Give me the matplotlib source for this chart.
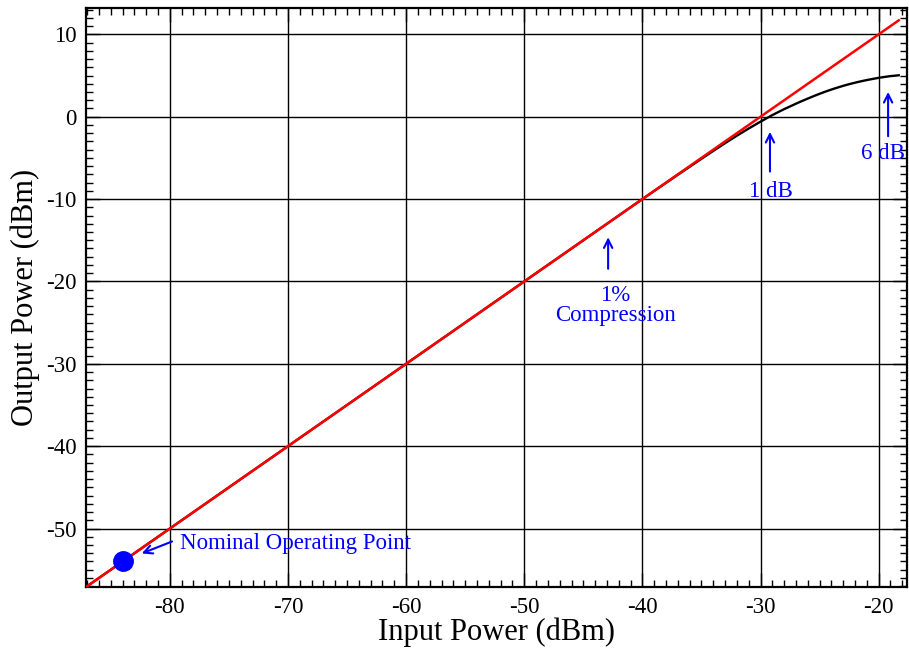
import matplotlib.pyplot as plt
from matplotlib.ticker import MultipleLocator

plt.rcParams['font.family'] = ['Liberation Serif', 'DejaVu Serif']
plt.rcParams['axes.unicode_minus'] = False

# linear (ideal) response
lin_in = [-87.0, -18.3]
lin_out = [-57.0, 11.7]

# compressed amplifier response
amp_in = [-87.0, -40.0, -39.0, -38.0, -37.0, -36.0, -35.0, -34.0, -33.0, -32.0,
          -31.0, -30.0, -29.5, -29.0, -28.5, -28.0, -27.5, -27.0, -26.5, -26.0,
          -25.5, -25.0, -24.5, -24.0, -23.5, -23.0, -22.5, -22.0, -21.5, -21.0,
          -20.5, -20.0, -19.5, -19.0, -18.5, -18.3]
amp_out = [-57.0, -10.0, -9.01, -8.03, -7.05, -6.08, -5.11, -4.15, -3.21, -2.3,
           -1.43, -0.6, -0.2, 0.2, 0.56, 0.92, 1.25, 1.58, 1.9, 2.2,
           2.5, 2.78, 3.05, 3.3, 3.53, 3.75, 3.95, 4.13, 4.3, 4.45,
           4.59, 4.72, 4.83, 4.93, 5.0, 5.03]

op_in, op_out = -84.0, -54.0

fig = plt.figure(figsize=(9.09, 6.5), dpi=100)
ax = fig.add_axes([0.0946, 0.0969, 0.9032, 0.8908])

ax.plot(amp_in, amp_out, color='black', lw=1.7, zorder=3)
ax.plot(lin_in, lin_out, color='red', lw=1.8, zorder=4)
ax.plot([op_in], [op_out], 'o', color='blue', ms=14, zorder=5)

blue = (0, 0, 1)
fs = 16.5
arrow = dict(arrowstyle='->', color=blue, lw=1.5, mutation_scale=15)
ax.annotate('', xy=(-82.6, -53.15), xytext=(-79.6, -51.45), arrowprops=arrow)
ax.text(-79.15, -51.8, 'Nominal Operating Point', color=blue, fontsize=fs,
        ha='left', va='center')

ax.annotate('', xy=(-42.9, -14.3), xytext=(-42.9, -18.8), arrowprops=arrow)
ax.text(-42.3, -21.7, '1%', color=blue, fontsize=fs, ha='center', va='center')
ax.text(-42.3, -24.1, 'Compression', color=blue, fontsize=fs, ha='center', va='center')

ax.annotate('', xy=(-29.2, -1.5), xytext=(-29.2, -7.0), arrowprops=arrow)
ax.text(-29.15, -9.1, '1 dB', color=blue, fontsize=fs, ha='center', va='center')

ax.annotate('', xy=(-19.2, 3.35), xytext=(-19.2, -2.7), arrowprops=arrow)
ax.text(-19.66, -4.5, '6 dB', color=blue, fontsize=fs, ha='center', va='center')

ax.set_xlim(-87.1, -17.6)
ax.set_ylim(-57.1, 13.2)
ax.xaxis.set_major_locator(MultipleLocator(10))
ax.xaxis.set_minor_locator(MultipleLocator(1))
ax.yaxis.set_major_locator(MultipleLocator(10))
ax.yaxis.set_minor_locator(MultipleLocator(1))
ax.grid(True, which='major', color='black', lw=1.0)
ax.tick_params(which='both', direction='in', top=True, right=True,
               labelsize=16.5, width=1.0, colors='black')
ax.tick_params(which='major', length=10, pad=7)
ax.tick_params(which='minor', length=5)
for s in ax.spines.values():
    s.set_linewidth(1.6)

ax.set_xlabel('Input Power (dBm)', fontsize=22, labelpad=0)
ax.set_ylabel('Output Power (dBm)', fontsize=22, labelpad=4)

plt.savefig('out.png', dpi=100)
